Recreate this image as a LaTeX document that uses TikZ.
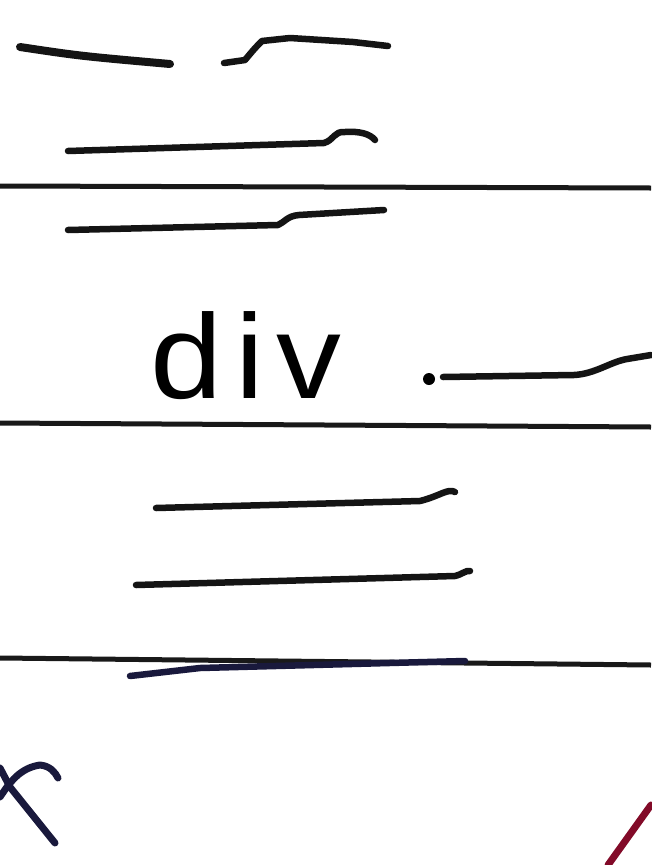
\documentclass[tikz,border=0pt]{standalone}
\usepackage{fontspec}
\setmainfont{Liberation Sans}
\begin{document}
\begin{tikzpicture}[x=1pt,y=-1pt,
  pen/.style={line width=6.5pt,line cap=round,line join=round,color=black!92},
  rule/.style={line width=5pt,color=black!90},
  navy/.style={pen,color={rgb,255:red,25;green,25;blue,60}},
  redpen/.style={pen,line width=7pt,color={rgb,255:red,130;green,10;blue,40}}]
\useasboundingbox (0,0) rectangle (651,865);
\fill[white] (0,0) rectangle (651,865);
% scribbled lines, top
\draw[pen,line width=8pt] (20,47) .. controls (80,56) .. (170,64);
\draw[pen] (224,63) -- (245,60) .. controls (255,48) .. (262,41) -- (290,38) -- (353,42) -- (388,46);
\draw[pen] (68,151) -- (324,143) .. controls (334,140) and (334,131) .. (345,132) .. controls (360,131) and (370,134) .. (375,140);
\coordinate (r1l) at (0,186); \coordinate (r1r) at (651,188);
\draw[rule] (r1l) -- (r1r);
\draw[pen] (68,230) -- (278,225) .. controls (285,222) and (287,216) .. (299,215) -- (384,210);
% div label
\node[anchor=base west,inner sep=0pt,font=\fontsize{120}{120}\selectfont\addfontfeature{LetterSpace=10},xscale=1.08] (div) at (150,398) {div};
\coordinate (dotpt) at (429,379);
\fill[black] (dotpt) circle (6pt);
\draw[pen] (443,377) -- (574,375) .. controls (595,374) and (610,362) .. (627,359) -- (651,355);
\coordinate (r2l) at (0,423); \coordinate (r2r) at (651,427);
\draw[rule] (r2l) -- (r2r);
% lower scribbles
\draw[pen] (156,508) -- (420,501) .. controls (440,496) and (448,488) .. (455,492);
\draw[pen] (136,585) -- (455,576) .. controls (463,574) and (466,570) .. (470,571);
\coordinate (r3l) at (0,658); \coordinate (r3r) at (651,665);
\draw[rule] (r3l) -- (r3r);
\draw[navy] (130,676) -- (200,668) -- (465,661);
% bottom fragments
\draw[navy,line width=7pt] (0,768) -- (10,787) -- (55,843);
\draw[navy,line width=7pt] (0,797) .. controls (10,782) and (20,768) .. (40,765) .. controls (50,766) and (55,772) .. (58,778);
\draw[redpen] (651,805) -- (608,865);
\end{tikzpicture}
\end{document}
